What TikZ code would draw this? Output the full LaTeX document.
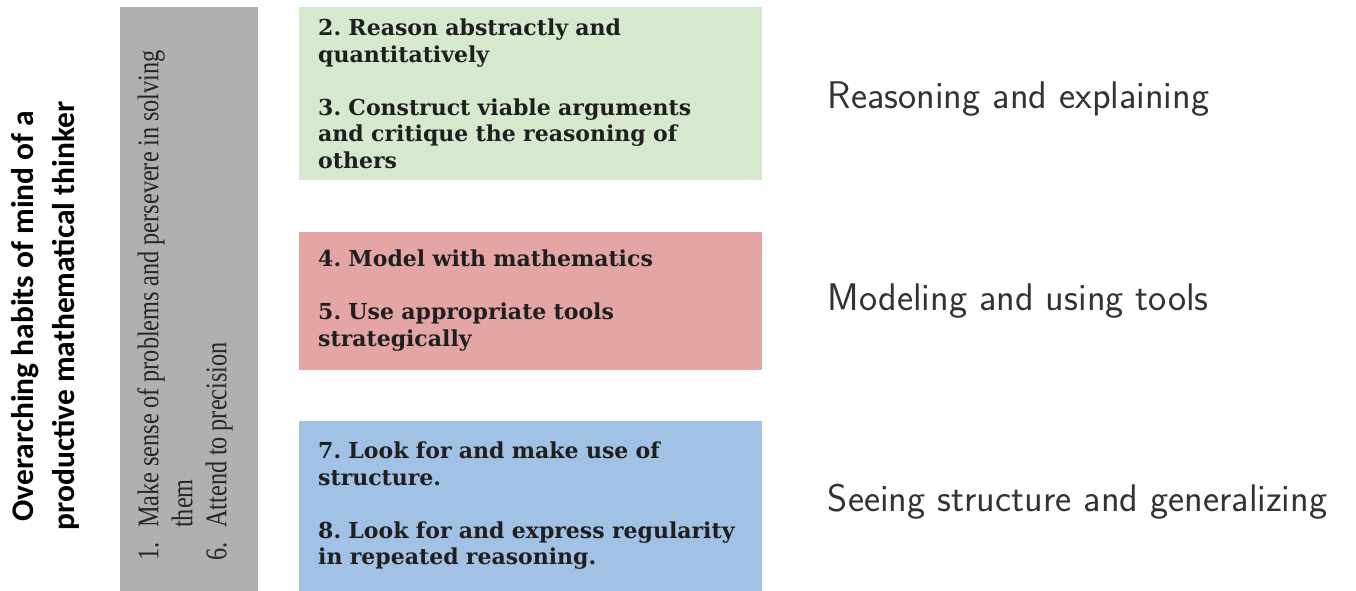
\documentclass[tikz,border=0pt]{standalone}
\usepackage{fontspec}
\usepackage{xcolor}
\usepackage{tikz}
\usetikzlibrary{positioning}

\newfontfamily\titlefont{Carlito}
\newfontfamily\practicefont{DejaVu Serif}
\newfontfamily\habitfont[FakeStretch=0.81, WordSpace=0.95]{Liberation Serif}

\definecolor{habitgray}{RGB}{176,176,176}
\definecolor{reasongreen}{RGB}{214,232,206}
\definecolor{modelred}{RGB}{227,166,165}
\definecolor{structblue}{RGB}{161,194,229}

\frenchspacing
\begin{document}
\begin{tikzpicture}[
    x=1pt, y=1pt,
    node distance=51pt,
    practice/.style={rectangle, minimum width=463pt, text width=425pt,
                     inner sep=0pt, align=left, text=black!88,
                     font=\practicefont\bfseries\fontsize{22}{26.5}\selectfont},
    bar/.style={rectangle, fill=habitgray, minimum width=138pt,
                minimum height=585pt, inner sep=0pt},
    habits/.style={rotate=90, inner sep=0pt, align=left, text=black!85,
                   font=\habitfont\fontsize{30}{34}\selectfont},
    group/.style={text=black!80, font=\sffamily\fontsize{38.5}{44}\selectfont},
]
\useasboundingbox (0,0) rectangle (1356,-590);

% the three groups of practices
\node[practice, fill=reasongreen, minimum height=173pt, anchor=north west]
    (reason) at (299,-7)
    {2. Reason abstractly and\\ quantitatively\\[26.5pt]
     3. Construct viable arguments\\ and critique the reasoning of\\ others};
\node[practice, fill=modelred, minimum height=138pt, below=of reason] (model)
    {4. Model with mathematics\\[26.5pt]
     5. Use appropriate tools\\ strategically};
\node[practice, fill=structblue, minimum height=170pt, below=of model] (struct)
    {7. Look for and make use of\\ structure.\\[26.5pt]
     8. Look for and express regularity\\ in repeated reasoning.};

% overarching habits bar
\node[bar, left=41pt of reason.north west, anchor=north east] (overarch) {};
\node[habits, anchor=north west] (habitlist) at (137,-561)
    {\makebox[33pt][l]{1.}Make sense of problems and persevere in solving\\
     \hspace{33pt}them\\
     \makebox[33pt][l]{6.}Attend to precision};

\node[rotate=90, align=center, font=\titlefont\bfseries\fontsize{31.5}{41}\selectfont]
    (title) at (45,-316)
    {Overarching habits of mind of a\\ productive mathematical thinker};

% group labels
\node[group, right=62pt of reason, anchor=base west, yshift=-14.5pt] (reasonlbl)
    {Reasoning and explaining};
\node[group, right=62pt of model, anchor=base west, yshift=-10pt] (modellbl)
    {Modeling and using tools};
\node[group, right=62pt of struct, anchor=base west, yshift=-5pt] (structlbl)
    {Seeing structure and generalizing};
\end{tikzpicture}
\end{document}
